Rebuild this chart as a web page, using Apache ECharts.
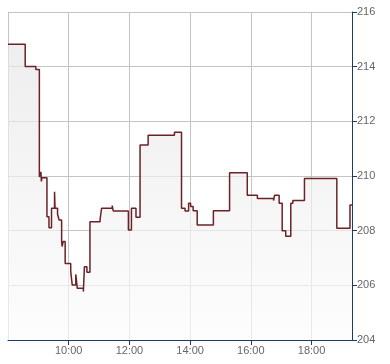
<!DOCTYPE html>
<html>
<head>
<meta charset="utf-8">
<script src="https://cdn.jsdelivr.net/npm/echarts@6/dist/echarts.min.js"></script>
<style>
html,body{margin:0;padding:0;background:#fff;}
#chart{width:390px;height:364px;}
</style>
</head>
<body>
<div id="chart"></div>
<script>
var times = ['08:00','08:34','08:55','09:02','09:05','09:06','09:07','09:17','09:21','09:26','09:32','09:33','09:38','09:41','09:46','09:47','09:49','09:53','10:04','10:07','10:14','10:17','10:29','10:31','10:36','10:42','11:02','11:05','11:26','11:28','11:58','12:04','12:13','12:21','12:37','13:29','13:43','13:50','13:57','14:01','14:06','14:14','14:46','15:18','15:53','16:13','16:45','16:47','16:56','17:02','17:09','17:19','17:23','17:46','18:50','19:16','19:20'];
var prices = [214.82,214.01,213.90,209.96,210.15,209.80,209.94,208.51,208.11,208.82,209.42,208.82,208.60,208.39,207.60,207.42,207.60,206.80,206.50,206.01,206.40,205.89,205.77,206.68,206.48,208.33,208.41,208.82,208.92,208.72,208.02,208.82,208.49,211.13,211.49,211.60,208.82,208.72,209.00,208.88,208.73,208.21,208.73,210.12,209.30,209.18,209.10,209.30,209.00,208.00,207.80,209.00,209.10,209.91,208.09,208.94,208.94];
var xTickLabels = ['10:00','12:00','14:00','16:00','18:00'];

function toMin(s){var p=s.split(':');return (+p[0])*60+(+p[1]);}
function fmt(m){var h=Math.floor(m/60),mm=m%60;return (h<10?'0':'')+h+':'+(mm<10?'0':'')+mm;}
var data = times.map(function(t,i){return [toMin(t),prices[i]];});

var chart = echarts.init(document.getElementById('chart'));
chart.setOption({
  animation:false,
  grid:{left:8,right:38,top:12,bottom:24},
  xAxis:{
    type:'value',min:480,max:1160,interval:120,
    axisLine:{show:true,onZero:false,lineStyle:{color:'#1b3a66',width:1}},
    axisTick:{show:true,length:5,lineStyle:{color:'#1b3a66'}},
    axisLabel:{color:'#666',fontFamily:'Liberation Sans, Arial, sans-serif',fontSize:11,margin:5,
      showMinLabel:false,showMaxLabel:false,
      formatter:function(v){var s=fmt(v);return xTickLabels.indexOf(s)>=0?s:'';}},
    splitLine:{show:true,lineStyle:{color:'#c4c4c4',width:1}}
  },
  yAxis:{
    type:'value',position:'right',min:204,max:216,interval:2,
    axisLine:{show:true,lineStyle:{color:'#1b3a66',width:1}},
    axisTick:{show:true,length:5,inside:false,lineStyle:{color:'#1b3a66'}},
    axisLabel:{color:'#666',fontFamily:'Liberation Sans, Arial, sans-serif',fontSize:11,margin:5},
    splitLine:{show:true,lineStyle:{color:'#c4c4c4',width:1}}
  },
  series:[{
    type:'line',step:'end',data:data,showSymbol:false,symbol:'none',
    lineStyle:{color:'#6b2226',width:1.5},
    areaStyle:{color:new echarts.graphic.LinearGradient(0,0,0,1,[{offset:0,color:'#e6e6e6'},{offset:1,color:'#fbfbfb'}])}
  }]
});
</script>
</body>
</html>
